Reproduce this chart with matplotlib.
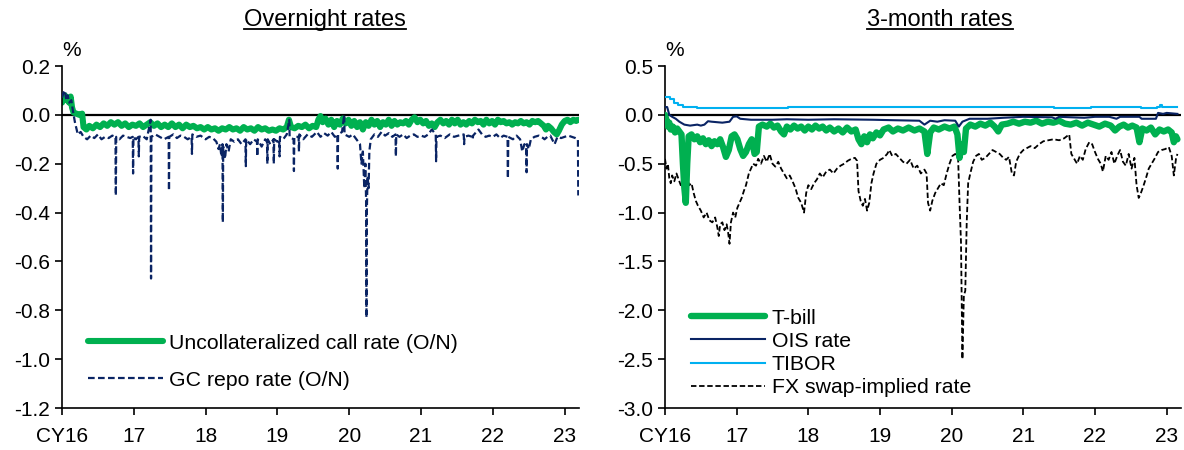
import matplotlib
matplotlib.use("Agg")
import matplotlib.pyplot as plt
from matplotlib.lines import Line2D

plt.rcParams["font.family"] = ["Liberation Sans", "DejaVu Sans"]
plt.rcParams["axes.unicode_minus"] = False

# ---- data (decimal years, %) ----
call_pts = [
    (2016.00, 0.05), (2016.02, 0.07), (2016.04, 0.08), (2016.06, 0.06), (2016.08, 0.07),
    (2016.10, 0.05), (2016.12, 0.075), (2016.14, 0.03), (2016.16, 0.01), (2016.20, 0.005),
    (2016.24, 0.0), (2016.28, 0.005), (2016.30, -0.05), (2016.34, -0.06), (2016.38, -0.045),
    (2016.43, -0.055), (2016.48, -0.04), (2016.53, -0.05), (2016.58, -0.035), (2016.63, -0.045),
    (2016.68, -0.03), (2016.73, -0.04), (2016.78, -0.03), (2016.83, -0.045), (2016.88, -0.035),
    (2016.93, -0.05), (2016.98, -0.04), (2017.03, -0.045), (2017.08, -0.035), (2017.13, -0.05),
    (2017.18, -0.04), (2017.23, -0.03), (2017.28, -0.045), (2017.33, -0.035), (2017.38, -0.05),
    (2017.43, -0.04), (2017.48, -0.05), (2017.53, -0.035), (2017.58, -0.05), (2017.63, -0.04),
    (2017.68, -0.055), (2017.73, -0.04), (2017.78, -0.05), (2017.83, -0.045), (2017.88, -0.055),
    (2017.93, -0.05), (2017.98, -0.06), (2018.03, -0.05), (2018.08, -0.06), (2018.13, -0.055),
    (2018.18, -0.065), (2018.23, -0.055), (2018.28, -0.06), (2018.33, -0.05), (2018.38, -0.06),
    (2018.43, -0.055), (2018.48, -0.065), (2018.53, -0.05), (2018.58, -0.06), (2018.63, -0.055),
    (2018.68, -0.065), (2018.73, -0.05), (2018.78, -0.06), (2018.83, -0.055), (2018.88, -0.065),
    (2018.93, -0.06), (2018.98, -0.065), (2019.03, -0.055), (2019.08, -0.06), (2019.13, -0.05),
    (2019.16, -0.02), (2019.19, -0.05), (2019.24, -0.055), (2019.29, -0.045), (2019.34, -0.05),
    (2019.39, -0.04), (2019.44, -0.055), (2019.49, -0.045), (2019.54, -0.05), (2019.57, -0.02),
    (2019.60, -0.005), (2019.63, -0.03), (2019.67, -0.015), (2019.71, -0.04), (2019.75, -0.02),
    (2019.79, -0.05), (2019.83, -0.025), (2019.87, -0.04), (2019.91, -0.015), (2019.95, -0.035),
    (2019.99, -0.02), (2020.03, -0.045), (2020.07, -0.025), (2020.11, -0.05), (2020.15, -0.03),
    (2020.19, -0.06), (2020.23, -0.03), (2020.27, -0.045), (2020.31, -0.02), (2020.35, -0.04),
    (2020.39, -0.025), (2020.43, -0.05), (2020.47, -0.03), (2020.51, -0.04), (2020.55, -0.02),
    (2020.59, -0.045), (2020.63, -0.025), (2020.67, -0.04), (2020.71, -0.03), (2020.75, -0.035),
    (2020.79, -0.025), (2020.83, -0.04), (2020.87, -0.02), (2020.91, -0.01), (2020.95, -0.03),
    (2020.99, -0.02), (2021.03, -0.035), (2021.07, -0.025), (2021.11, -0.045), (2021.15, -0.035),
    (2021.19, -0.05), (2021.23, -0.03), (2021.27, -0.02), (2021.31, -0.035), (2021.35, -0.025),
    (2021.39, -0.04), (2021.43, -0.02), (2021.47, -0.035), (2021.51, -0.02), (2021.55, -0.04),
    (2021.59, -0.03), (2021.63, -0.04), (2021.67, -0.025), (2021.71, -0.035), (2021.75, -0.02),
    (2021.79, -0.03), (2021.83, -0.025), (2021.87, -0.04), (2021.91, -0.02), (2021.95, -0.035),
    (2021.99, -0.025), (2022.03, -0.04), (2022.07, -0.02), (2022.11, -0.03), (2022.15, -0.025),
    (2022.19, -0.035), (2022.23, -0.03), (2022.27, -0.04), (2022.31, -0.03), (2022.35, -0.035),
    (2022.39, -0.025), (2022.43, -0.035), (2022.47, -0.03), (2022.51, -0.04), (2022.55, -0.025),
    (2022.59, -0.03), (2022.63, -0.025), (2022.67, -0.035), (2022.71, -0.045), (2022.74, -0.06),
    (2022.77, -0.045), (2022.81, -0.055), (2022.85, -0.07), (2022.89, -0.08), (2022.92, -0.065),
    (2022.96, -0.04), (2023.00, -0.025), (2023.04, -0.02), (2023.08, -0.03), (2023.12, -0.02),
    (2023.16, -0.025), (2023.19, -0.02),
]

gc_pts = [
    (2016.00, 0.07), (2016.02, 0.09), (2016.04, 0.1), (2016.06, 0.06), (2016.08, 0.08),
    (2016.10, 0.05), (2016.13, 0.06), (2016.15, 0.02), (2016.18, -0.03), (2016.22, -0.08),
    (2016.26, -0.07), (2016.30, -0.09), (2016.35, -0.1), (2016.40, -0.085), (2016.45, -0.095),
    (2016.50, -0.08), (2016.55, -0.1), (2016.60, -0.09), (2016.65, -0.095), (2016.70, -0.085),
    (2016.745, -0.09), (2016.75, -0.33), (2016.755, -0.09), (2016.80, -0.1), (2016.85, -0.085),
    (2016.90, -0.09), (2016.95, -0.095), (2016.985, -0.09), (2016.99, -0.24), (2016.995, -0.09),
    (2017.03, -0.1), (2017.065, -0.09), (2017.07, -0.17), (2017.075, -0.09), (2017.12, -0.085),
    (2017.18, -0.1), (2017.235, -0.02), (2017.24, -0.67), (2017.245, -0.09), (2017.30, -0.08),
    (2017.36, -0.09), (2017.42, -0.1), (2017.485, -0.09), (2017.49, -0.31), (2017.495, -0.09),
    (2017.55, -0.08), (2017.60, -0.095), (2017.65, -0.085), (2017.70, -0.09), (2017.75, -0.1),
    (2017.805, -0.09), (2017.81, -0.16), (2017.815, -0.08), (2017.87, -0.09), (2017.93, -0.085),
    (2018.00, -0.1), (2018.05, -0.09), (2018.10, -0.095), (2018.15, -0.11), (2018.18, -0.14),
    (2018.20, -0.12), (2018.22, -0.17), (2018.235, -0.12), (2018.24, -0.44), (2018.245, -0.13),
    (2018.27, -0.18), (2018.29, -0.12), (2018.32, -0.15), (2018.35, -0.1), (2018.40, -0.11),
    (2018.45, -0.1), (2018.50, -0.12), (2018.555, -0.1), (2018.56, -0.21), (2018.565, -0.1),
    (2018.62, -0.12), (2018.67, -0.1), (2018.715, -0.11), (2018.72, -0.17), (2018.725, -0.1),
    (2018.78, -0.13), (2018.83, -0.1), (2018.855, -0.11), (2018.86, -0.2), (2018.865, -0.1),
    (2018.90, -0.12), (2018.945, -0.1), (2018.95, -0.2), (2018.955, -0.1), (2019.00, -0.11),
    (2019.025, -0.1), (2019.03, -0.17), (2019.035, -0.09), (2019.08, -0.1), (2019.13, -0.08),
    (2019.165, -0.02), (2019.17, -0.09), (2019.225, -0.1), (2019.23, -0.23), (2019.235, -0.09),
    (2019.295, -0.09), (2019.30, -0.15), (2019.305, -0.08), (2019.36, -0.1), (2019.42, -0.08),
    (2019.48, -0.09), (2019.55, -0.07), (2019.60, -0.09), (2019.65, -0.075), (2019.70, -0.085),
    (2019.75, -0.07), (2019.80, -0.09), (2019.835, -0.08), (2019.84, -0.22), (2019.845, -0.08),
    (2019.90, -0.07), (2019.93, 0.0), (2019.935, -0.08), (2020.00, -0.09), (2020.05, -0.08),
    (2020.10, -0.1), (2020.15, -0.12), (2020.17, -0.2), (2020.19, -0.15), (2020.21, -0.3),
    (2020.225, -0.2), (2020.235, -0.35), (2020.24, -0.83), (2020.245, -0.4), (2020.255, -0.25),
    (2020.27, -0.3), (2020.28, -0.15), (2020.30, -0.1), (2020.35, -0.08), (2020.40, -0.09),
    (2020.45, -0.07), (2020.50, -0.085), (2020.55, -0.075), (2020.60, -0.09), (2020.645, -0.08),
    (2020.65, -0.17), (2020.655, -0.08), (2020.70, -0.09), (2020.75, -0.08), (2020.80, -0.095),
    (2020.85, -0.085), (2020.90, -0.08), (2020.95, -0.09), (2021.00, -0.085), (2021.05, -0.09),
    (2021.10, -0.08), (2021.15, -0.06), (2021.205, -0.08), (2021.21, -0.19), (2021.215, -0.09),
    (2021.27, -0.085), (2021.33, -0.095), (2021.40, -0.08), (2021.46, -0.09), (2021.52, -0.085),
    (2021.595, -0.08), (2021.60, -0.12), (2021.605, -0.09), (2021.66, -0.085), (2021.715, -0.09),
    (2021.72, -0.1), (2021.725, -0.085), (2021.80, -0.06), (2021.85, -0.08), (2021.90, -0.09),
    (2021.95, -0.085), (2022.00, -0.09), (2022.05, -0.08), (2022.10, -0.095), (2022.15, -0.085),
    (2022.205, -0.09), (2022.21, -0.26), (2022.215, -0.09), (2022.28, -0.1), (2022.33, -0.085),
    (2022.38, -0.1), (2022.41, -0.15), (2022.44, -0.12), (2022.465, -0.13), (2022.47, -0.235),
    (2022.475, -0.12), (2022.50, -0.14), (2022.53, -0.1), (2022.58, -0.09), (2022.64, -0.085),
    (2022.70, -0.095), (2022.72, -0.1), (2022.76, -0.09), (2022.80, -0.085), (2022.86, -0.12),
    (2022.90, -0.09), (2022.95, -0.095), (2023.00, -0.09), (2023.05, -0.085), (2023.10, -0.09),
    (2023.15, -0.095), (2023.185, -0.1), (2023.19, -0.33),
]

tbill_pts = [
    (2016.00, 0.0), (2016.02, -0.05), (2016.04, -0.12), (2016.06, -0.08), (2016.08, -0.15),
    (2016.11, -0.12), (2016.14, -0.18), (2016.17, -0.14), (2016.20, -0.17), (2016.23, -0.2),
    (2016.25, -0.5), (2016.27, -0.75), (2016.29, -0.9), (2016.31, -0.5), (2016.33, -0.22),
    (2016.37, -0.2), (2016.41, -0.25), (2016.45, -0.22), (2016.49, -0.28), (2016.53, -0.24),
    (2016.57, -0.3), (2016.61, -0.26), (2016.65, -0.32), (2016.69, -0.27), (2016.73, -0.3),
    (2016.77, -0.25), (2016.81, -0.33), (2016.85, -0.43), (2016.89, -0.36), (2016.93, -0.22),
    (2016.97, -0.2), (2017.01, -0.25), (2017.05, -0.35), (2017.09, -0.42), (2017.13, -0.38),
    (2017.17, -0.3), (2017.21, -0.25), (2017.25, -0.4), (2017.28, -0.38), (2017.31, -0.12),
    (2017.36, -0.1), (2017.42, -0.12), (2017.47, -0.09), (2017.52, -0.13), (2017.57, -0.11),
    (2017.62, -0.17), (2017.66, -0.2), (2017.70, -0.12), (2017.75, -0.15), (2017.80, -0.11),
    (2017.85, -0.14), (2017.90, -0.12), (2017.95, -0.16), (2018.00, -0.12), (2018.05, -0.15),
    (2018.10, -0.11), (2018.15, -0.14), (2018.20, -0.12), (2018.25, -0.16), (2018.30, -0.13),
    (2018.36, -0.17), (2018.42, -0.14), (2018.48, -0.18), (2018.54, -0.13), (2018.60, -0.17),
    (2018.66, -0.15), (2018.70, -0.25), (2018.74, -0.3), (2018.78, -0.22), (2018.82, -0.28),
    (2018.86, -0.2), (2018.90, -0.24), (2018.95, -0.18), (2019.00, -0.21), (2019.05, -0.15),
    (2019.12, -0.13), (2019.18, -0.17), (2019.25, -0.14), (2019.32, -0.16), (2019.40, -0.13),
    (2019.48, -0.16), (2019.55, -0.14), (2019.62, -0.17), (2019.66, -0.4), (2019.70, -0.18),
    (2019.75, -0.13), (2019.82, -0.15), (2019.90, -0.12), (2019.97, -0.14), (2020.04, -0.12),
    (2020.08, -0.2), (2020.11, -0.44), (2020.14, -0.3), (2020.17, -0.38), (2020.20, -0.14),
    (2020.26, -0.1), (2020.33, -0.12), (2020.40, -0.09), (2020.47, -0.11), (2020.54, -0.08),
    (2020.60, -0.12), (2020.65, -0.17), (2020.70, -0.1), (2020.78, -0.09), (2020.86, -0.07),
    (2020.94, -0.09), (2021.02, -0.07), (2021.10, -0.08), (2021.18, -0.06), (2021.26, -0.09),
    (2021.34, -0.07), (2021.42, -0.08), (2021.50, -0.06), (2021.58, -0.09), (2021.66, -0.1),
    (2021.74, -0.08), (2021.82, -0.11), (2021.90, -0.08), (2021.98, -0.1), (2022.06, -0.12),
    (2022.14, -0.09), (2022.22, -0.11), (2022.28, -0.16), (2022.34, -0.12), (2022.40, -0.1),
    (2022.46, -0.13), (2022.52, -0.11), (2022.58, -0.13), (2022.62, -0.28), (2022.66, -0.14),
    (2022.72, -0.16), (2022.78, -0.13), (2022.84, -0.2), (2022.90, -0.15), (2022.96, -0.17),
    (2023.02, -0.15), (2023.07, -0.18), (2023.10, -0.28), (2023.13, -0.22), (2023.15, -0.25),
]

ois_pts = [
    (2016.00, 0.08), (2016.03, 0.08), (2016.06, 0.0), (2016.10, -0.02), (2016.15, -0.04),
    (2016.20, -0.07), (2016.27, -0.1), (2016.35, -0.11), (2016.45, -0.1), (2016.50, -0.11),
    (2016.55, -0.1), (2016.60, -0.065), (2016.65, -0.07), (2016.80, -0.08), (2016.90, -0.07),
    (2016.95, -0.02), (2017.00, -0.015), (2017.05, -0.04), (2017.20, -0.05), (2017.50, -0.05),
    (2017.70, -0.045), (2018.00, -0.05), (2018.36, -0.045), (2018.90, -0.05), (2019.20, -0.055),
    (2019.55, -0.06), (2019.62, -0.1), (2019.70, -0.06), (2019.80, -0.07), (2019.90, -0.055),
    (2020.05, -0.06), (2020.10, -0.12), (2020.15, -0.07), (2020.25, -0.04), (2020.50, -0.04),
    (2020.72, -0.03), (2021.00, -0.02), (2021.40, -0.025), (2021.45, -0.04), (2021.50, -0.02),
    (2021.85, -0.03), (2022.00, -0.02), (2022.20, -0.02), (2022.30, -0.04), (2022.35, -0.02),
    (2022.62, -0.02), (2022.65, -0.04), (2022.85, -0.04), (2022.88, 0.02), (2022.95, 0.01),
    (2023.00, 0.02), (2023.15, 0.01),
]

tibor_pts = [
    (2016.00, 0.18), (2016.05, 0.18), (2016.07, 0.16), (2016.12, 0.12), (2016.18, 0.1),
    (2016.25, 0.085), (2016.44, 0.07), (2017.71, 0.085), (2021.43, 0.07), (2021.95, 0.085),
    (2022.64, 0.07), (2022.87, 0.085), (2022.90, 0.1), (2022.93, 0.085), (2023.15, 0.085),
]

fx_pts = [
    (2016.00, -0.45), (2016.02, -0.55), (2016.04, -0.5), (2016.06, -0.65), (2016.08, -0.7),
    (2016.10, -0.62), (2016.13, -0.68), (2016.16, -0.6), (2016.19, -0.66), (2016.22, -0.72),
    (2016.25, -0.68), (2016.28, -0.73), (2016.31, -0.66), (2016.34, -0.72), (2016.37, -0.7),
    (2016.40, -0.8), (2016.43, -0.88), (2016.46, -0.93), (2016.50, -0.98), (2016.54, -1.05),
    (2016.58, -1.0), (2016.62, -1.08), (2016.66, -1.1), (2016.70, -1.05), (2016.73, -1.15),
    (2016.75, -1.24), (2016.77, -1.12), (2016.80, -1.1), (2016.83, -1.18), (2016.86, -1.12),
    (2016.88, -1.2), (2016.90, -1.32), (2016.92, -1.1), (2016.95, -1.0), (2016.98, -1.05),
    (2017.01, -0.95), (2017.04, -0.9), (2017.07, -0.85), (2017.10, -0.78), (2017.13, -0.72),
    (2017.17, -0.6), (2017.20, -0.55), (2017.23, -0.5), (2017.27, -0.52), (2017.30, -0.45),
    (2017.34, -0.5), (2017.38, -0.42), (2017.42, -0.48), (2017.46, -0.4), (2017.50, -0.5),
    (2017.54, -0.53), (2017.58, -0.48), (2017.62, -0.55), (2017.66, -0.6), (2017.70, -0.65),
    (2017.74, -0.62), (2017.78, -0.68), (2017.82, -0.75), (2017.86, -0.85), (2017.90, -0.9),
    (2017.94, -1.0), (2017.97, -0.8), (2018.00, -0.72), (2018.04, -0.76), (2018.08, -0.7),
    (2018.12, -0.66), (2018.16, -0.6), (2018.20, -0.64), (2018.25, -0.58), (2018.30, -0.56),
    (2018.35, -0.6), (2018.40, -0.55), (2018.45, -0.52), (2018.50, -0.5), (2018.55, -0.47),
    (2018.60, -0.45), (2018.65, -0.44), (2018.68, -0.47), (2018.70, -0.78), (2018.73, -0.88),
    (2018.76, -0.93), (2018.79, -0.86), (2018.82, -0.98), (2018.85, -0.9), (2018.88, -0.7),
    (2018.91, -0.6), (2018.95, -0.5), (2019.00, -0.46), (2019.05, -0.44), (2019.10, -0.4),
    (2019.13, -0.36), (2019.17, -0.42), (2019.22, -0.4), (2019.27, -0.44), (2019.32, -0.48),
    (2019.37, -0.5), (2019.42, -0.46), (2019.47, -0.55), (2019.52, -0.52), (2019.57, -0.6),
    (2019.62, -0.56), (2019.65, -0.6), (2019.67, -0.9), (2019.70, -0.98), (2019.73, -0.88),
    (2019.77, -0.8), (2019.81, -0.75), (2019.85, -0.7), (2019.89, -0.72), (2019.93, -0.6),
    (2019.97, -0.5), (2020.01, -0.42), (2020.05, -0.4), (2020.09, -0.45), (2020.11, -0.9),
    (2020.13, -1.3), (2020.15, -2.5), (2020.17, -1.85), (2020.19, -1.8), (2020.21, -1.1),
    (2020.23, -0.7), (2020.26, -0.6), (2020.30, -0.48), (2020.34, -0.42), (2020.38, -0.4),
    (2020.42, -0.46), (2020.47, -0.44), (2020.52, -0.4), (2020.57, -0.36), (2020.62, -0.38),
    (2020.67, -0.4), (2020.72, -0.44), (2020.76, -0.46), (2020.80, -0.43), (2020.84, -0.6),
    (2020.87, -0.62), (2020.90, -0.48), (2020.95, -0.4), (2021.00, -0.36), (2021.05, -0.34),
    (2021.10, -0.32), (2021.16, -0.34), (2021.22, -0.3), (2021.28, -0.27), (2021.35, -0.26),
    (2021.42, -0.25), (2021.50, -0.26), (2021.57, -0.24), (2021.64, -0.2), (2021.67, -0.4),
    (2021.71, -0.45), (2021.75, -0.5), (2021.79, -0.42), (2021.83, -0.46), (2021.87, -0.35),
    (2021.92, -0.28), (2021.96, -0.3), (2022.00, -0.38), (2022.04, -0.45), (2022.08, -0.5),
    (2022.11, -0.58), (2022.15, -0.42), (2022.19, -0.46), (2022.23, -0.38), (2022.27, -0.5),
    (2022.31, -0.42), (2022.35, -0.36), (2022.39, -0.48), (2022.43, -0.52), (2022.47, -0.4),
    (2022.51, -0.55), (2022.55, -0.44), (2022.58, -0.72), (2022.61, -0.85), (2022.64, -0.8),
    (2022.67, -0.74), (2022.71, -0.65), (2022.75, -0.55), (2022.79, -0.5), (2022.83, -0.45),
    (2022.88, -0.38), (2022.93, -0.36), (2022.98, -0.35), (2023.03, -0.33), (2023.07, -0.42),
    (2023.10, -0.62), (2023.13, -0.45), (2023.15, -0.4),
]

year_ticks = [2016, 2017, 2018, 2019, 2020, 2021, 2022, 2023]
year_labels = ["CY16", "17", "18", "19", "20", "21", "22", "23"]

GREEN = "#00B050"
NAVY = "#0A2464"
LIGHT = "#00B0F0"

fig = plt.figure(figsize=(11.84, 4.5), dpi=100)
ax1 = fig.add_axes([62 / 1184, 42 / 450, 517 / 1184, 342 / 450])
ax2 = fig.add_axes([665 / 1184, 42 / 450, 516 / 1184, 342 / 450])


def style_axis(ax, ylim, yticks):
    ax.set_xlim(2016, 2023.2)
    ax.set_ylim(*ylim)
    ax.set_xticks(year_ticks)
    ax.set_xticklabels(year_labels)
    ax.set_yticks(yticks)
    ax.yaxis.set_major_formatter(plt.FormatStrFormatter("%.1f"))
    for s in ("top", "right"):
        ax.spines[s].set_visible(False)
    for s in ("left", "bottom"):
        ax.spines[s].set_linewidth(1.2)
    ax.tick_params(axis="both", labelsize=15, width=1.2, length=5, direction="out")
    ax.tick_params(axis="x", pad=9)
    ax.axhline(0, color="black", lw=1.6, zorder=1.5)
    ax.annotate("%", xy=(0, 1), xycoords="axes fraction", xytext=(0, 4),
                textcoords="offset points", ha="left", va="bottom", fontsize=15)


style_axis(ax1, (-1.2, 0.2), [0.2, 0.0, -0.2, -0.4, -0.6, -0.8, -1.0, -1.2])
style_axis(ax2, (-3.0, 0.5), [0.5, 0.0, -0.5, -1.0, -1.5, -2.0, -2.5, -3.0])

# left panel
t, v = zip(*call_pts)
ax1.plot(t, v, color=GREEN, lw=4.4, solid_capstyle="round", zorder=2,
         label="Uncollateralized call rate (O/N)")
t, v = zip(*gc_pts)
ax1.plot(t, v, color=NAVY, lw=1.6, ls=(0, (3, 1.5)), zorder=3, label="GC repo rate (O/N)")
ax1.legend(loc="lower left", bbox_to_anchor=(0.03, 0.022), frameon=False, fontsize=15.3,
           handlelength=3.5, handletextpad=0.3, labelspacing=0.85, borderpad=0)

# right panel
t, v = zip(*fx_pts)
ax2.plot(t, v, color="black", lw=1.3, ls=(0, (3, 1.5)), zorder=2, label="FX swap-implied rate")
t, v = zip(*tbill_pts)
ax2.plot(t, v, color=GREEN, lw=4.6, solid_capstyle="round", zorder=3, label="T-bill")
t, v = zip(*ois_pts)
ax2.plot(t, v, color=NAVY, lw=1.5, zorder=4, label="OIS rate")
t, v = zip(*tibor_pts)
ax2.plot(t, v, color=LIGHT, lw=1.5, drawstyle="steps-post", zorder=4, label="TIBOR")
h, l = ax2.get_legend_handles_labels()
order = [1, 2, 3, 0]
ax2.legend([h[i] for i in order], [l[i] for i in order], loc="lower left",
           bbox_to_anchor=(0.03, 0.0), frameon=False, fontsize=15.3,
           handlelength=3.5, handletextpad=0.3, labelspacing=0.2, borderpad=0)

# underlined titles
titles = [fig.text(325 / 1184, 1 - 20 / 450, "Overnight rates", ha="center", va="center", fontsize=17),
          fig.text(940 / 1184, 1 - 20 / 450, "3-month rates", ha="center", va="center", fontsize=17)]
fig.canvas.draw()
r = fig.canvas.get_renderer()
for tt in titles:
    bb = tt.get_window_extent(r).transformed(fig.transFigure.inverted())
    y = bb.y0 + 2 / 450
    fig.add_artist(Line2D([bb.x0, bb.x1], [y, y], color="black", lw=1.3, transform=fig.transFigure))

fig.savefig("out.png", dpi=100)
